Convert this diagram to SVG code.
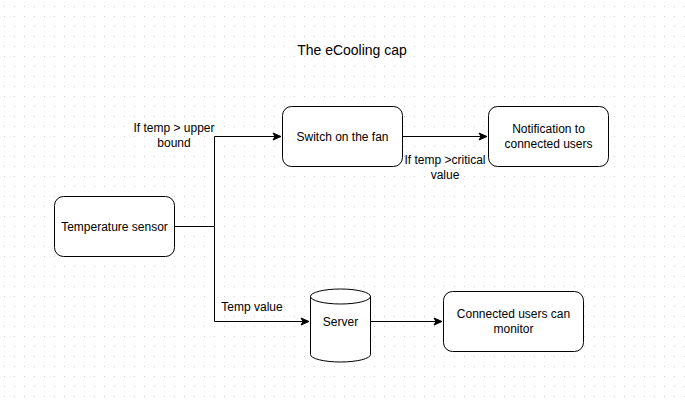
<svg xmlns="http://www.w3.org/2000/svg" width="685" height="400" viewBox="0 0 685 400">
<defs>
<pattern id="grid" x="0" y="0" width="10" height="10" patternUnits="userSpaceOnUse">
<rect x="4" y="6" width="1" height="1" fill="#d0d0d0"/>
</pattern>
<marker id="arr" markerWidth="10" markerHeight="10" refX="9" refY="5" orient="auto" markerUnits="userSpaceOnUse">
<path d="M1,1.5 L9,5 L1,8.5 L3,5 Z" fill="#000" stroke="#000" stroke-width="1"/>
</marker>
<style>
.box{fill:#fff;stroke:#000;stroke-width:1}
.t{font-family:"Liberation Sans",Arial,sans-serif;font-size:12px;fill:#000;text-anchor:middle}
.c{fill:none;stroke:#000;stroke-width:1}
</style>
</defs>
<rect width="685" height="400" fill="#fff"/>
<rect width="685" height="400" fill="url(#grid)"/>
<text class="t" x="352" y="55" style="font-size:14px">The eCooling cap</text>
<g id="connectors">
<path class="c" d="M175,226.5 H214.5 V136.5 H281" marker-end="url(#arr)"/>
<path class="c" d="M214.5,226.5 V321.5 H309" marker-end="url(#arr)"/>
<path class="c" d="M402,136.5 H487" marker-end="url(#arr)"/>
<path class="c" d="M371,321.5 H442" marker-end="url(#arr)"/>
<text class="t" x="174" y="132">If temp &gt; upper</text>
<text class="t" x="174" y="147">bound</text>
<text class="t" x="445" y="164">If temp &gt;critical</text>
<text class="t" x="445" y="179">value</text>
<text class="t" x="252" y="311">Temp value</text>
</g>
<g id="sensor">
<rect class="box" x="54.5" y="196.5" width="120" height="60" rx="9"/>
<text class="t" x="114.5" y="231">Temperature sensor</text>
</g>
<g id="fan">
<rect class="box" x="282.5" y="106.5" width="120" height="60" rx="9"/>
<text class="t" x="342.5" y="141">Switch on the fan</text>
</g>
<g id="notify">
<rect class="box" x="488.5" y="106.5" width="120" height="60" rx="9"/>
<text class="t" x="548.5" y="133">Notification to</text>
<text class="t" x="548.5" y="148">connected users</text>
</g>
<g id="server">
<path class="box" d="M310.5,296.5 A30,7.5 0 0 1 370.5,296.5 V354.5 A30,7.5 0 0 1 310.5,354.5 Z"/>
<path class="c" d="M310.5,296.5 A30,7.5 0 0 0 370.5,296.5"/>
<text class="t" x="340.5" y="326">Server</text>
</g>
<g id="monitor">
<rect class="box" x="443.5" y="291.5" width="140" height="60" rx="9"/>
<text class="t" x="513.5" y="318">Connected users can</text>
<text class="t" x="513.5" y="333">monitor</text>
</g>
</svg>
